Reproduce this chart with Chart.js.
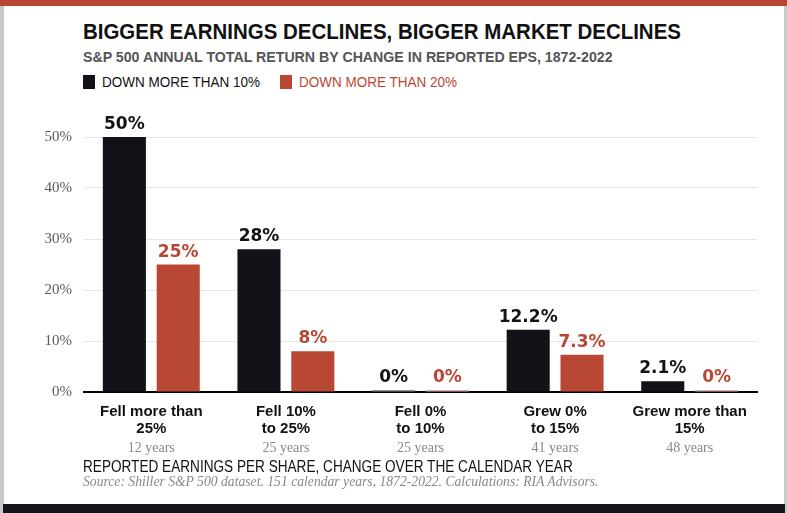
<!DOCTYPE html>
<html>
<head>
<meta charset="utf-8">
<script src="https://cdn.jsdelivr.net/npm/chart.js@4.4.0/dist/chart.umd.min.js"></script>
<style>
  html, body { margin: 0; padding: 0; }
  body { width: 787px; height: 513px; background: #c9c9c9; position: relative; overflow: hidden; }
  #frame { position: absolute; left: 4px; top: 0; width: 780px; height: 513px; background: #fff; }
  #topbar { position: absolute; left: 0; top: 0; width: 787px; height: 6px; background: #b84834; }
  #botbar { position: absolute; left: 3px; top: 504px; width: 782px; height: 9px; background: #15161b; }
  .txt { position: absolute; left: 83px; white-space: nowrap; transform-origin: 0 0;
         font-family: "Liberation Sans", Arial, sans-serif; }
  #title { top: 19px; font-size: 22px; font-weight: bold; color: #111; transform: scaleX(0.93); }
  #subtitle { top: 48px; font-size: 15px; font-weight: bold; color: #555; transform: scaleX(0.945); }
  #legend { top: 73px; font-size: 15px; }
  #legend .sq { position: absolute; top: 2px; width: 12px; height: 14px; }
  #legend .lab { position: absolute; top: 0; transform-origin: 0 0; transform: scaleX(0.9); white-space: nowrap; }
  #xtitle { top: 458px; font-size: 16px; color: #111; transform: scaleX(0.85); }
  #source { top: 474px; font-family: "Liberation Serif", "DejaVu Serif", serif; font-style: italic; font-size: 14px; color: #888; transform: scaleX(0.975); }
  #wrap { position: absolute; left: 0; top: 100px; width: 787px; height: 360px; }
</style>
</head>
<body>
<div id="frame"></div>
<div id="topbar"></div>
<div id="botbar"></div>
<div class="txt" id="title">BIGGER EARNINGS DECLINES, BIGGER MARKET DECLINES</div>
<div class="txt" id="subtitle">S&amp;P 500 ANNUAL TOTAL RETURN BY CHANGE IN REPORTED EPS, 1872-2022</div>
<div class="txt" id="legend">
  <span class="sq" style="left:0; background:#111318"></span>
  <span class="lab" style="left:19px; color:#111">DOWN MORE THAN 10%</span>
  <span class="sq" style="left:197px; background:#b84834"></span>
  <span class="lab" style="left:216px; color:#b84834">DOWN MORE THAN 20%</span>
</div>
<div id="wrap"><canvas id="chart"></canvas></div>
<div class="txt" id="xtitle">REPORTED EARNINGS PER SHARE, CHANGE OVER THE CALENDAR YEAR</div>
<div class="txt" id="source">Source: Shiller S&amp;P 500 dataset. 151 calendar years, 1872-2022. Calculations: RIA Advisors.</div>

<script>
// categories and values
const categories = [
  ['Fell more than', '25%'],
  ['Fell 10%', 'to 25%'],
  ['Fell 0%', 'to 10%'],
  ['Grew 0%', 'to 15%'],
  ['Grew more than', '15%']
]
const yearCounts = ['12 years', '25 years', '25 years', '41 years', '48 years']
const downMoreThan10 = [50, 28, 0, 12.2, 2.1]
const downMoreThan20 = [25, 8, 0, 7.3, 0]
const yTicks = [0, 10, 20, 30, 40, 50]

const colors = {
  black: '#111318',
  blackZero: '#8c8c8c',
  red: '#b84834',
  redZero: '#e3b0a3',
  grid: '#e6e6e6',
  tick: '#5a5a5a'
}

// value labels above each bar
const valueLabels = {
  id: 'valueLabels',
  afterDatasetsDraw(chart) {
    const ctx = chart.ctx
    ctx.save()
    ctx.font = 'bold 17px "DejaVu Sans", sans-serif'
    ctx.textAlign = 'center'
    ctx.textBaseline = 'alphabetic'
    chart.data.datasets.forEach((ds, i) => {
      const meta = chart.getDatasetMeta(i)
      ctx.fillStyle = i === 0 ? colors.black : colors.red
      meta.data.forEach((bar, j) => {
        ctx.fillText(ds.data[j] + '%', bar.x, bar.y - 8)
      })
    })
    ctx.restore()
  }
}

new Chart(document.getElementById('chart'), {
  type: 'bar',
  data: {
    labels: categories,
    datasets: [
      {
        label: 'DOWN MORE THAN 10%',
        data: downMoreThan10,
        backgroundColor: c => c.raw === 0 ? colors.blackZero : colors.black,
        minBarLength: 2
      },
      {
        label: 'DOWN MORE THAN 20%',
        data: downMoreThan20,
        backgroundColor: c => c.raw === 0 ? colors.redZero : colors.red,
        minBarLength: 2
      }
    ]
  },
  options: {
    responsive: true,
    maintainAspectRatio: false,
    animation: false,
    categoryPercentage: 0.8,
    barPercentage: 0.8,
    layout: { padding: { top: 37, right: 30, left: 0, bottom: 0 } },
    plugins: {
      legend: { display: false },
      tooltip: { enabled: false }
    },
    scales: {
      x: {
        grid: { display: false },
        border: { display: true, color: '#000', width: 2 },
        ticks: {
          color: '#111',
          padding: 4,
          maxRotation: 0,
          font: { family: '"Liberation Sans", Arial, sans-serif', size: 15, weight: 'bold', lineHeight: 1.1 }
        },
        afterFit: s => { s.height = 48 }
      },
      x2: {
        type: 'category',
        position: 'bottom',
        labels: yearCounts,
        grid: { display: false, drawTicks: false },
        border: { display: false },
        ticks: {
          color: '#888',
          padding: 0,
          maxRotation: 0,
          font: { family: '"Liberation Serif", "DejaVu Serif", serif', size: 14 }
        },
        afterFit: s => { s.height = 20 }
      },
      y: {
        min: 0,
        max: 50,
        afterBuildTicks: s => { s.ticks = yTicks.map(v => ({ value: v })) },
        grid: { color: colors.grid, drawTicks: false },
        border: { display: false },
        ticks: {
          color: colors.tick,
          padding: 12,
          callback: v => v + '%',
          font: { family: '"Liberation Serif", "DejaVu Serif", serif', size: 15 }
        },
        afterFit: s => { s.width = 84 }
      }
    }
  },
  plugins: [valueLabels]
})
</script>
</body>
</html>
